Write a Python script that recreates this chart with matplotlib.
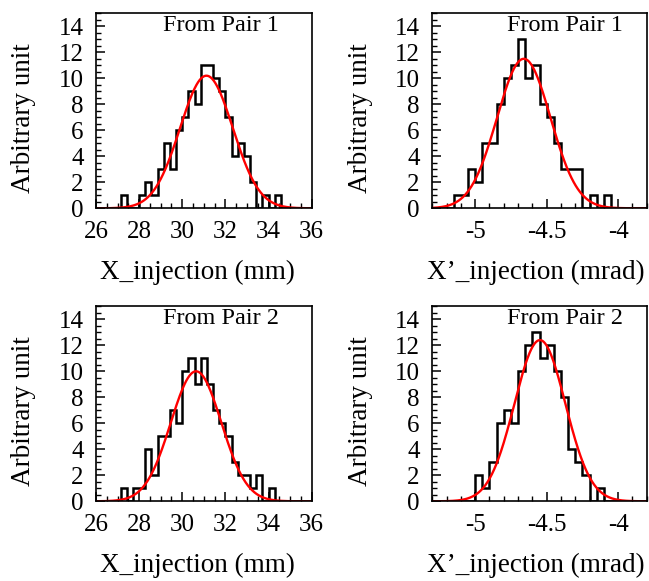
import matplotlib
matplotlib.use("Agg")
import matplotlib.pyplot as plt
import numpy as np
from matplotlib.ticker import MultipleLocator

plt.rcParams["font.family"] = ["Liberation Serif", "DejaVu Serif"]

# --- data ------------------------------------------------------------------
x_range = (26.0, 36.0)
x_nbins = 35
xp_range = (-5.3, -3.8)
xp_nbins = 30

counts_x_pair1 = [0, 0, 0, 0, 1, 0, 0, 1, 2, 1, 3, 5, 3, 6, 7, 9, 8, 11, 11, 10,
                  9, 7, 4, 5, 4, 2, 0, 1, 0, 1, 0, 0, 0, 0, 0]
counts_xp_pair1 = [0, 0, 0, 1, 1, 3, 2, 5, 5, 8, 10, 11, 13, 10, 11, 8, 7, 5, 3, 3,
                   3, 0, 1, 0, 1, 0, 0, 0, 0, 0]
counts_x_pair2 = [0, 0, 0, 0, 1, 0, 1, 1, 4, 2, 5, 5, 7, 6, 10, 11, 9, 11, 9, 7,
                  6, 5, 3, 2, 2, 1, 2, 0, 1, 0, 0, 0, 0, 0, 0]
counts_xp_pair2 = [0, 0, 0, 0, 0, 0, 2, 1, 3, 6, 7, 6, 10, 12, 13, 11, 12, 10, 8, 4,
                   3, 2, 0, 1, 0, 0, 0, 0, 0, 0]

# gaussian fit parameters (amplitude, mean, sigma)
fit_x_pair1 = (10.2, 31.12, 1.22)
fit_xp_pair1 = (11.5, -4.66, 0.187)
fit_x_pair2 = (10.0, 30.64, 1.17)
fit_xp_pair2 = (12.4, -4.547, 0.178)

titles = ["From Pair 1", "From Pair 1", "From Pair 2", "From Pair 2"]
xlabels = ["X_injection (mm)", "X\u2019_injection (mrad)"]


def gauss(x, amp, mean, sigma):
    return amp * np.exp(-0.5 * ((x - mean) / sigma) ** 2)


def draw_panel(ax, counts, rng, nbins, fit, title, xlabel, major, minor, label_x):
    edges = np.linspace(rng[0], rng[1], nbins + 1)
    ax.stairs(counts, edges, color="black", lw=1.8, baseline=0)
    xs = np.linspace(rng[0], rng[1], 400)
    ax.plot(xs, gauss(xs, *fit), color="red", lw=1.7)

    ax.set_xlim(*rng)
    ax.set_ylim(0, 15)
    ax.xaxis.set_major_locator(MultipleLocator(major))
    ax.xaxis.set_minor_locator(MultipleLocator(minor))
    ax.yaxis.set_major_locator(MultipleLocator(2))
    ax.yaxis.set_minor_locator(MultipleLocator(0.5))
    ax.yaxis.set_major_formatter(lambda v, p: f"{v:g}")
    ax.xaxis.set_major_formatter(lambda v, p: f"{v:g}")

    ax.tick_params(which="both", direction="in", top=False, right=False, labelsize=18)
    ax.tick_params(which="major", length=6.5, width=1.1)
    ax.tick_params(which="minor", length=3.5, width=1.0)
    ax.tick_params(axis="y", pad=9)
    ax.tick_params(axis="x", pad=9)
    for s in ax.spines.values():
        s.set_linewidth(1.2)

    ax.text(label_x[0], 0.94, title, transform=ax.transAxes, ha="center", va="center", fontsize=17.5)
    ax.set_xlabel(xlabel, fontsize=19.5)
    ax.xaxis.set_label_coords(label_x[1], -0.33)
    ax.xaxis.label.set_va("center")
    ax.set_ylabel("Arbitrary unit", fontsize=19.5)
    ax.yaxis.set_label_coords(-0.335, 0.46)
    ax.yaxis.label.set_va("center")


fig = plt.figure(figsize=(6.49, 5.81), dpi=100)
W, H = 649, 581

panels = [
    (96.0, 13.3, 215.7, counts_x_pair1, x_range, x_nbins, fit_x_pair1, 2, 0.5, (0.58, 0.468)),
    (432.3, 13.3, 214.4, counts_xp_pair1, xp_range, xp_nbins, fit_xp_pair1, 0.5, 0.1, (0.617, 0.481)),
    (96.0, 306.3, 215.7, counts_x_pair2, x_range, x_nbins, fit_x_pair2, 2, 0.5, (0.58, 0.468)),
    (432.3, 306.3, 214.4, counts_xp_pair2, xp_range, xp_nbins, fit_xp_pair2, 0.5, 0.1, (0.617, 0.481)),
]

for i, (left, top, width, counts, rng, nb, fit, major, minor, lx) in enumerate(panels):
    height = 195.0
    ax = fig.add_axes([left / W, 1 - (top + height) / H, width / W, height / H])
    draw_panel(ax, counts, rng, nb, fit, titles[i], xlabels[i % 2], major, minor, lx)

fig.savefig("out.png", dpi=100)
